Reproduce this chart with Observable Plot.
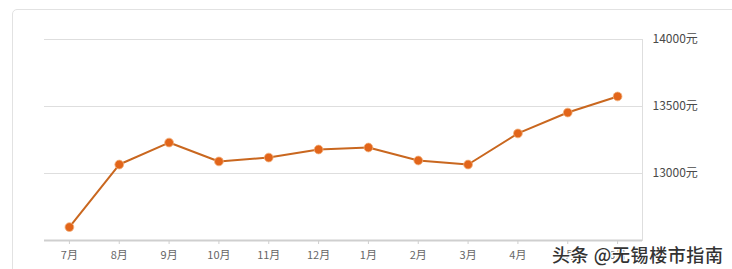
<!DOCTYPE html>
<html>
<head>
<meta charset="utf-8">
<script src="https://cdn.jsdelivr.net/npm/d3@7"></script>
<script src="https://cdn.jsdelivr.net/npm/@observablehq/plot@0.6"></script>
<style>
  html, body { margin: 0; padding: 0; background: #fff; }
  #wrap { position: relative; width: 732px; height: 269px; overflow: hidden; font-family: "Noto Sans CJK SC", "Noto Sans", sans-serif; }
  #box { position: absolute; left: 12px; top: 9px; width: 760px; height: 300px; border: 1px solid #e2e2e2; border-radius: 5px; box-sizing: border-box; }
  #chart { position: absolute; left: 0; top: 0; }
  #wm { position: absolute; left: 552px; top: 242px; font-size: 18px; line-height: 24px; letter-spacing: 0.6px; font-weight: 500; color: #333; white-space: nowrap;
        text-shadow: 0 0 2px #fff, 0 0 2px #fff, 1px 1px 1px #fff, -1px -1px 1px #fff, 1px -1px 1px #fff, -1px 1px 1px #fff; }
</style>
</head>
<body>
<div id="wrap">
  <div id="box"></div>
  <div id="chart"></div>
  <div id="wm">头条 @无锡楼市指南</div>
</div>
<script>
const months = ["7月","8月","9月","10月","11月","12月","1月","2月","3月","4月","5月","6月"];
const prices = [12600, 13067, 13231, 13090, 13119, 13179, 13194, 13097, 13067, 13299, 13455, 13575];
const yTicks = [13000, 13500, 14000];
const yDomain = [12500, 14000];

const data = months.map((m, i) => ({month: m, price: prices[i]}));

const chart = Plot.plot({
  width: 732,
  height: 269,
  marginLeft: 44,
  marginRight: 90,
  marginTop: 39,
  marginBottom: 29,
  style: {fontFamily: '"Noto Sans CJK SC", "Noto Sans", sans-serif', fontSize: "11px", background: "transparent", color: "#555"},
  x: {type: "point", domain: months, padding: 0.5, round: false, label: null},
  y: {domain: yDomain, label: null},
  marks: [
    Plot.ruleY(yTicks, {stroke: "#dedede", strokeWidth: 1}),
    Plot.frame({anchor: "right", stroke: "#dedede"}),
    Plot.ruleY([yDomain[0]], {stroke: "#cfcfcf", strokeWidth: 2}),
    Plot.axisX({tickSize: 4, tickPadding: 7, stroke: "#cfcfcf", color: "#666", fontSize: 11}),
    Plot.axisY({anchor: "right", ticks: yTicks, tickFormat: d => d + "元", tickSize: 0, tickPadding: 10, color: "#4a4a4a", fontSize: 12}),
    Plot.line(data, {x: "month", y: "price", stroke: "#c9671f", strokeWidth: 2}),
    Plot.dot(data, {x: "month", y: "price", r: 4.4, fill: "#e2651a", stroke: "#f3b27f", strokeWidth: 0.8})
  ]
});
document.getElementById("chart").appendChild(chart);
</script>
</body>
</html>
